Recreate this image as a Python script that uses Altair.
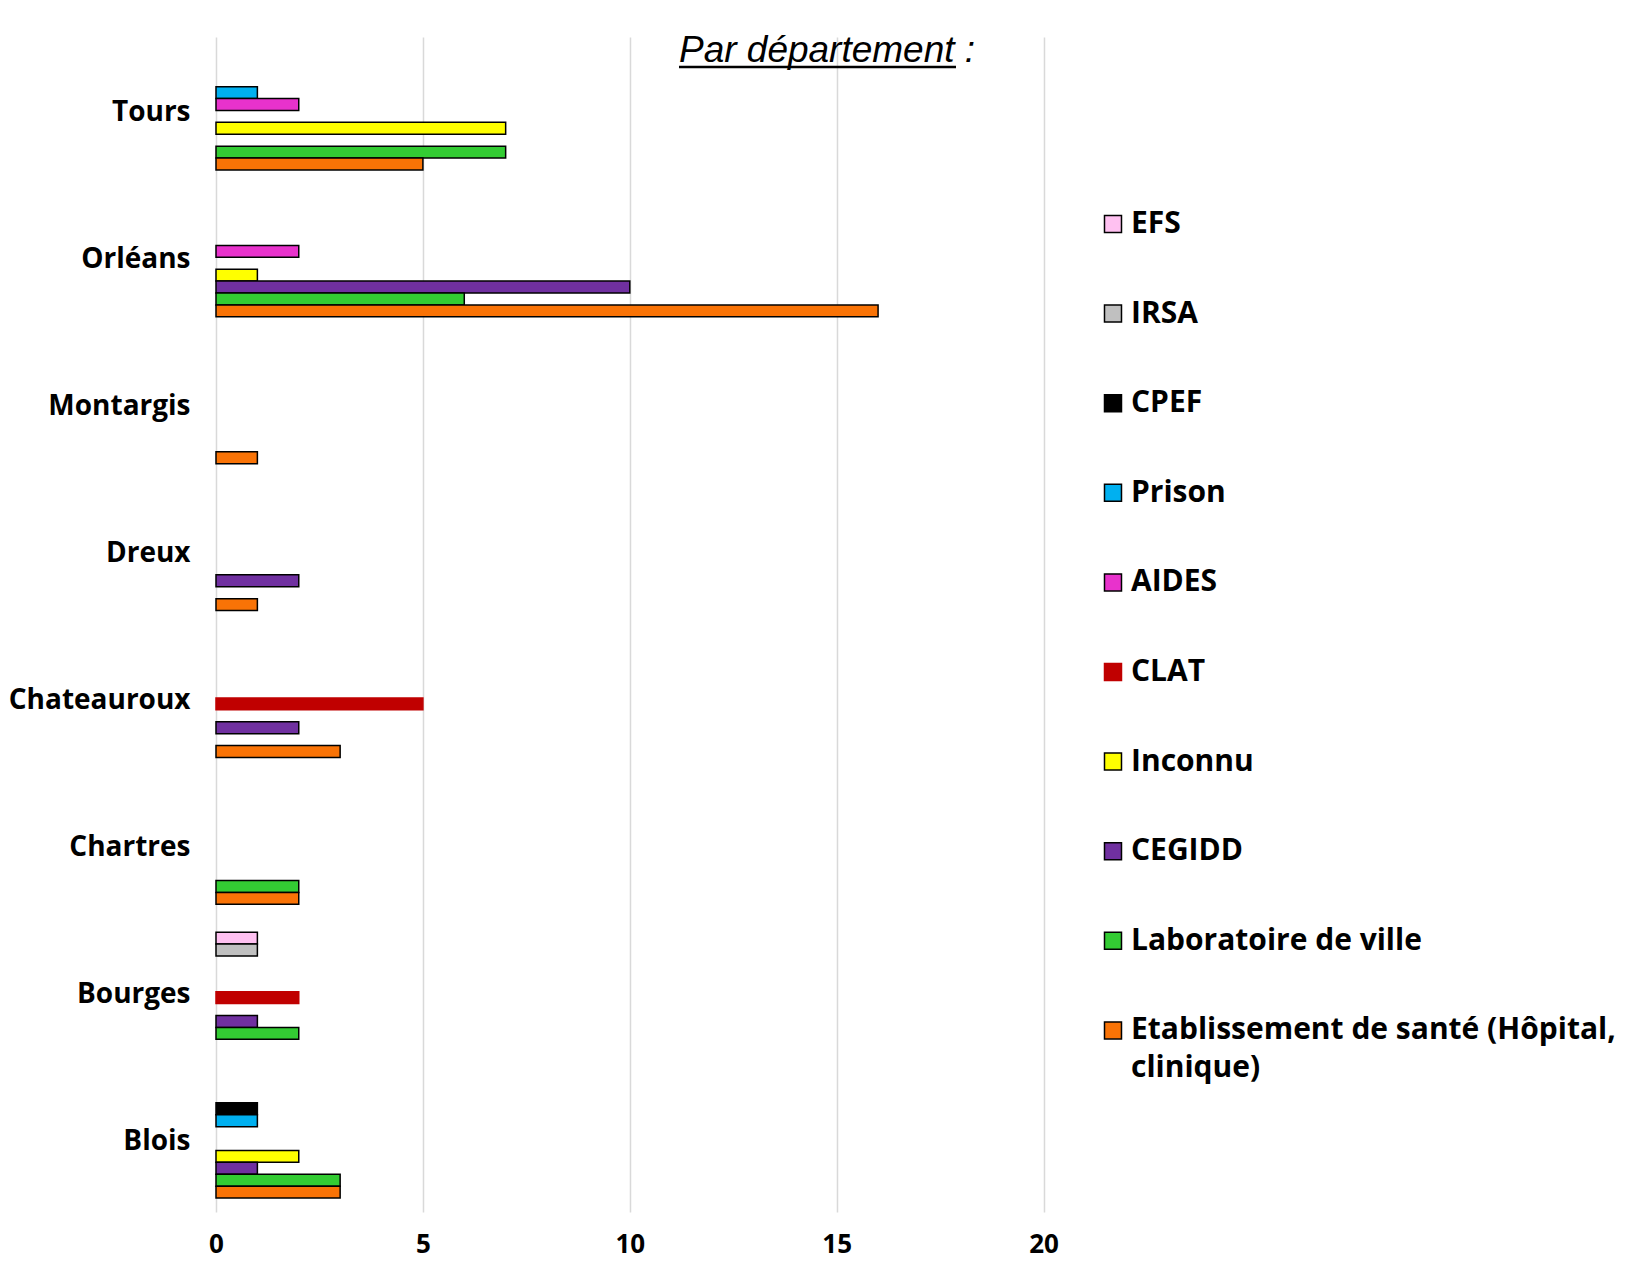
import altair as alt
import pandas as pd

title_text = "Par département :"
cities = ["Tours", "Orléans", "Montargis", "Dreux", "Chateauroux", "Chartres", "Bourges", "Blois"]
series = ["EFS", "IRSA", "CPEF", "Prison", "AIDES", "CLAT", "Inconnu", "CEGIDD",
          "Laboratoire de ville", "Etablissement de santé (Hôpital, clinique)"]
colors = ["#FFC1F1", "#C0C0C0", "#000000", "#00B0F0", "#E832CC", "#C00000",
          "#FFFF00", "#7030A0", "#33CC33", "#F97306"]
x_ticks = [0, 5, 10, 15, 20]

# values per series, in city order (Tours ... Blois)
efs = [0, 0, 0, 0, 0, 0, 1, 0]
irsa = [0, 0, 0, 0, 0, 0, 1, 0]
cpef = [0, 0, 0, 0, 0, 0, 0, 1]
prison = [1, 0, 0, 0, 0, 0, 0, 1]
aides = [2, 2, 0, 0, 0, 0, 0, 0]
clat = [0, 0, 0, 0, 5, 0, 2, 0]
inconnu = [7, 1, 0, 0, 0, 0, 0, 2]
cegidd = [0, 10, 0, 2, 2, 0, 1, 1]
labo = [7, 6, 0, 0, 0, 2, 2, 3]
etab = [5, 16, 1, 1, 3, 2, 0, 3]

all_vals = [efs, irsa, cpef, prison, aides, clat, inconnu, cegidd, labo, etab]
rows = []
for s, arr in zip(series, all_vals):
    for c, v in zip(cities, arr):
        if v > 0:
            rows.append({"city": c, "series": s, "value": v})
df = pd.DataFrame(rows)

stroke_colors = ["#C00000" if s == "CLAT" else "#000000" for s in series]

FONT = "Open Sans"

bars = alt.Chart(df).mark_bar(strokeWidth=1.5).encode(
    x=alt.X("value:Q", scale=alt.Scale(domain=[0, 20], nice=False),
            axis=alt.Axis(values=x_ticks, title=None, grid=True, gridColor="#D9D9D9",
                          gridWidth=1.5, domain=False, ticks=False, labelFont=FONT,
                          labelFontWeight="bold", labelFontSize=26, labelPadding=20,
                          labelColor="black", labelFlush=False)),
    y=alt.Y("city:N", sort=cities,
            scale=alt.Scale(domain=cities, paddingInner=0.19, paddingOuter=0.095),
            axis=alt.Axis(title=None, domain=False, ticks=False, labelFont=FONT,
                          labelFontWeight="bold", labelFontSize=28, labelPadding=26,
                          labelColor="black", labelLimit=400, labelOffset=3)),
    yOffset=alt.YOffset("series:N", scale=alt.Scale(domain=series, paddingInner=0, paddingOuter=0)),
    fill=alt.Fill("series:N", scale=alt.Scale(domain=series, range=colors),
                  legend=alt.Legend(title=None, orient="none", legendX=882, legendY=172,
                                    symbolType="square", symbolSize=289, symbolStrokeWidth=1.5,
                                    labelFont=FONT, labelFontWeight="bold", labelFontSize=30,
                                    labelColor="black", labelOffset=3, rowPadding=59.6,
                                    labelLimit=1000,
                                    labelExpr="test(/^Etablissement/, datum.label) ? ['Etablissement de santé (Hôpital,', 'clinique)'] : datum.label")),
    stroke=alt.Stroke("series:N", scale=alt.Scale(domain=series, range=stroke_colors), legend=None),
)

tdf = pd.DataFrame({"t": [title_text]})
title = alt.Chart(tdf).mark_text(font="Liberation Sans", fontStyle="italic", fontSize=37,
                                 align="left", baseline="alphabetic", color="black").encode(
    x=alt.value(463), y=alt.value(25), text="t:N")
underline = alt.Chart(tdf).mark_rule(strokeWidth=2.5, color="black").encode(
    x=alt.value(463), x2=alt.value(740), y=alt.value(30))

chart = alt.layer(bars, title, underline).properties(
    width=827.6, height=1175,
    autosize=alt.AutoSizeParams(type="none"),
    padding={"left": 208, "top": 29, "right": 582, "bottom": 50},
).configure(
    background="white",
    style={"guide-label": {"lineHeight": 37.6}},
    view={"stroke": "transparent", "strokeWidth": 0},
)

chart.save("out.html", embed_options={"renderer": "svg", "actions": False})
